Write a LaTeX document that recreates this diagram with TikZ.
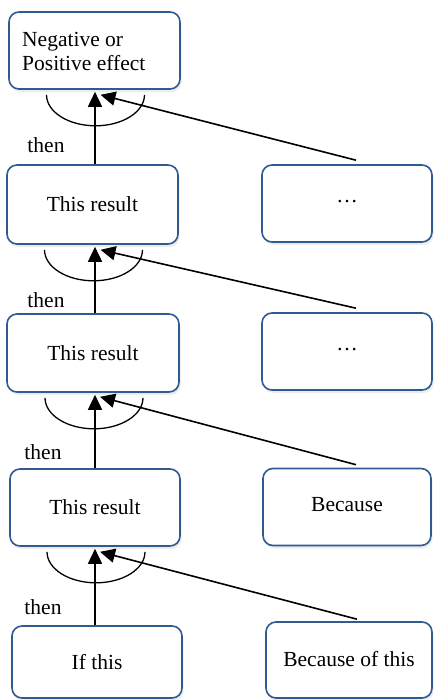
\documentclass[tikz,border=0pt]{standalone}
\usepackage{fontspec}
\setmainfont{Liberation Serif}
\usetikzlibrary{arrows.meta,shadows,calc}
\definecolor{boxblue}{HTML}{2F5A92}
\tikzset{
  box/.style={draw=boxblue, line width=1.6pt, rounded corners=10pt, fill=white,
    minimum width=170pt, minimum height=77pt, inner sep=0pt,
    drop shadow={opacity=0.15, shadow xshift=1.5pt, shadow yshift=-3pt},
    font=\fontsize{21.5}{24}\selectfont},
  arr/.style={line width=1.6pt, -{Triangle[width=14pt,length=15pt]}},
  hook/.style={line width=1.3pt},
  lbl/.style={font=\fontsize{21.5}{24}\selectfont, inner sep=0pt}
}
\begin{document}
\begin{tikzpicture}[x=1pt,y=-1pt]
\useasboundingbox (0,0) rectangle (433,700);
% left column
\node[box, minimum width=171pt] (L1) at (94.5,50.5) {};
\node[lbl, anchor=west, align=left] (t1) at (22,51) {Negative or\\Positive effect};
\node[box, minimum width=171pt, minimum height=79pt] (L2) at (92.5,204.5) {This result};
\node[box, minimum width=172pt, minimum height=78pt] (L3) at (93,353) {This result};
\node[box] (L4) at (95,507.5) {This result};
\node[box, minimum height=72pt] (L5) at (97,662) {If this};
% right column
\node[box] (R1) at (347,203.5) {\raisebox{4pt}{\dots}};
\node[box] (R2) at (347,351.5) {\raisebox{4pt}{\dots}};
\node[box, minimum width=168pt] (R3) at (347,507) {\raisebox{6pt}{Because}};
\node[box, minimum width=166pt, minimum height=76pt] (R4) at (349,660) {\raisebox{2pt}{Because of this}};
% then labels
\node[lbl] (th1) at (46,145) {then};
\node[lbl] (th2) at (46,300) {then};
\node[lbl] (th3) at (43,452) {then};
\node[lbl] (th4) at (43,607) {then};
% arcs
\foreach \u in {L1,L2,L3,L4}{
  \draw[hook] ($(\u.south)+(-48,5)$) arc[start angle=180, end angle=0, x radius=49, y radius=31];
}
% vertical arrows
\draw[arr, shorten >=2pt] (L2.north -| 95,0) -- (L1.south -| 95,0);
\draw[arr, shorten >=2pt] (L3.north -| 95,0) -- (L2.south -| 95,0);
\draw[arr, shorten >=2pt] (L4.north -| 95,0) -- (L3.south -| 95,0);
\draw[arr, shorten >=2pt] (L5.north -| 95,0) -- (L4.south -| 95,0);
% diagonal arrows
\coordinate (d1) at ($(L1.south)+(6,5)$);
\coordinate (d2) at ($(L2.south)+(8,5)$);
\coordinate (d3) at ($(L3.south)+(7,4)$);
\coordinate (d4) at ($(L4.south)+(5,5)$);
\draw[arr] ($(R1.north)+(9,-4)$) -- (d1);
\draw[arr] ($(R2.north)+(9,-4)$) -- (d2);
\draw[arr] ($(R3.north)+(9,-3)$) -- (d3);
\draw[arr] ($(R4.north)+(8,-2)$) -- (d4);
\end{tikzpicture}
\end{document}
